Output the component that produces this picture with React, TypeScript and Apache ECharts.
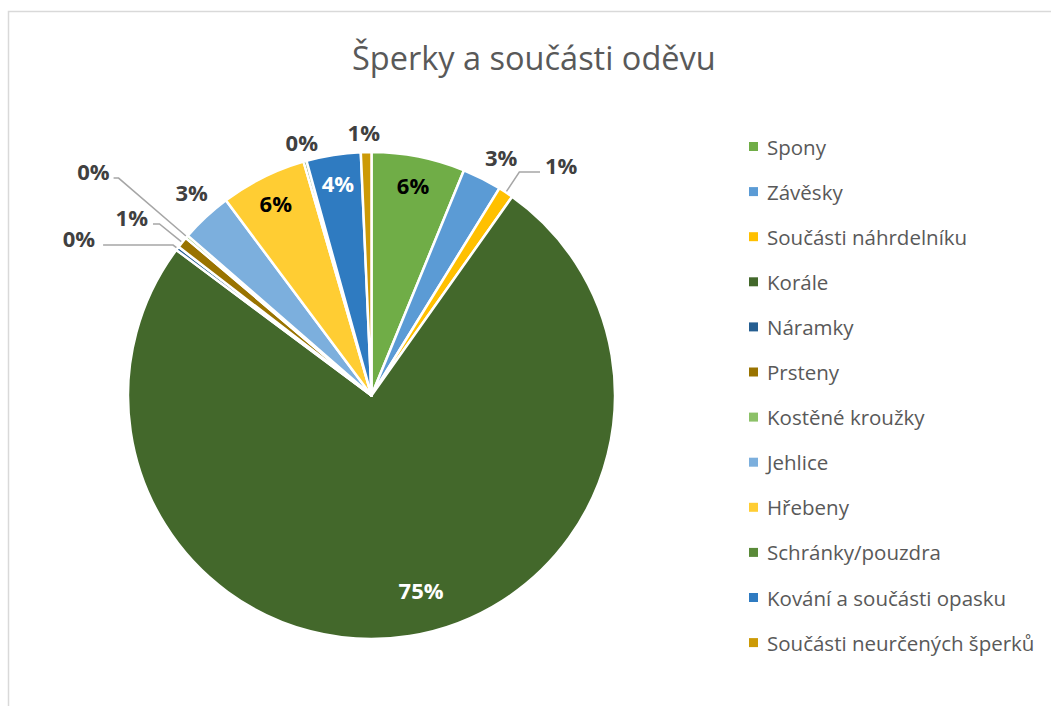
import React, { useEffect, useRef } from "react";
import * as echarts from "echarts";

// ---- data ----
const categories = [
  "Spony",
  "Závěsky",
  "Součásti náhrdelníku",
  "Korále",
  "Náramky",
  "Prsteny",
  "Kostěné kroužky",
  "Jehlice",
  "Hřebeny",
  "Schránky/pouzdra",
  "Kování a součásti opasku",
  "Součásti neurčených šperků",
];
// share of each category in percent
const shares = [6.2, 2.6, 1.0, 75.4, 0.25, 0.75, 0.2, 3.4, 5.7, 0.2, 3.6, 0.7];
const colors = [
  "#70AD47",
  "#5B9BD5",
  "#FFC000",
  "#43682B",
  "#255E91",
  "#997300",
  "#8CC168",
  "#7CAFDD",
  "#FFCD33",
  "#5A8A39",
  "#2F7BC1",
  "#CC9A06",
];
const titleText = "Šperky a součásti oděvu";

// ---- styling / layout ----
const FONT = '"Open Sans", "Noto Sans", sans-serif';
const CENTER = [371.5, 395.5];
const RADIUS = 243.5;

// labels drawn inside their slice (text colour)
const insideLabels: { [name: string]: { color: string; offset: number[] } } = {
  Spony: { color: "#000000", offset: [0, 0] },
  "Korále": { color: "#FFFFFF", offset: [16, -18] },
  "Hřebeny": { color: "#000000", offset: [0, 0] },
  "Kování a součásti opasku": { color: "#FFFFFF", offset: [0, 0] },
};

// labels drawn outside their slice
const outsideLabels: {
  [name: string]: { length: number; length2: number; distance: number; line: boolean };
} = {
  "Závěsky": { length: 24, length2: 0, distance: -8, line: false },
  "Součásti náhrdelníku": { length: 24.5, length2: 20.7, distance: 5, line: true },
  "Náramky": { length: 5.5, length2: 70, distance: 8, line: true },
  Prsteny: { length: 29.2, length2: 6.5, distance: 5, line: true },
  "Kostěné kroužky": { length: 90, length2: 5, distance: 4, line: true },
  Jehlice: { length: 34, length2: 0, distance: -25, line: false },
  "Schránky/pouzdra": { length: 20, length2: 0, distance: -18.4, line: false },
  "Součásti neurčených šperků": { length: 20, length2: 0, distance: -14.3, line: false },
};

const pctFormatter = (p: any) => Math.round(p.percent) + "%";

export default function App() {
  const ref = useRef<HTMLDivElement>(null);

  useEffect(() => {
    document.body.style.margin = "0";
    if (!ref.current) return;
    const chart = echarts.init(ref.current, undefined, { renderer: "svg" });

    const labelBase = {
      fontFamily: FONT,
      fontWeight: "bold" as const,
      fontSize: 22,
      color: "#404040",
      formatter: pctFormatter,
    };

    const mainData = categories.map((name, i) => {
      const o = outsideLabels[name];
      return {
        name,
        value: shares[i],
        itemStyle: { color: colors[i] },
        label: o
          ? {
              show: true,
              position: "outside",
              distanceToLabelLine: o.distance,
              offset: o.line ? [0, -7] : [0, 0],
            }
          : { show: false },
        labelLine: o
          ? { show: o.line, length: o.length, length2: o.length2 }
          : { show: false },
      };
    });

    const labelData = categories.map((name, i) => {
      const o = insideLabels[name];
      return {
        name,
        value: shares[i],
        itemStyle: { color: "rgba(0,0,0,0)", borderWidth: 0 },
        label: o
          ? { show: true, position: "inside", color: o.color, offset: o.offset }
          : { show: false },
      };
    });

    chart.setOption({
      animation: false,
      backgroundColor: "#FFFFFF",
      title: {
        text: titleText,
        left: 352,
        top: 41,
        padding: 0,
        textStyle: {
          fontFamily: FONT,
          fontSize: 32.5,
          fontWeight: "normal",
          color: "#595959",
        },
      },
      legend: {
        orient: "vertical",
        left: 749,
        top: 136,
        padding: 0,
        itemWidth: 9,
        itemHeight: 9,
        itemGap: 24.1,
        icon: "rect",
        selectedMode: false,
        itemStyle: { borderWidth: 0 },
        textStyle: {
          fontFamily: FONT,
          fontSize: 20.5,
          color: "#595959",
          lineHeight: 20,
          padding: [0, 0, 0, 4],
        },
        data: categories,
      },
      graphic: [
        {
          type: "rect",
          silent: true,
          shape: { x: 8.5, y: 11.5, width: 1100, height: 800 },
          style: { fill: "none", stroke: "#D9D9D9", lineWidth: 1.5 },
        },
      ],
      series: [
        {
          type: "pie",
          name: "main",
          center: CENTER,
          radius: RADIUS,
          startAngle: 90,
          clockwise: true,
          avoidLabelOverlap: false,
          emphasis: { disabled: true },
          itemStyle: { borderColor: "#FFFFFF", borderWidth: 2.5 },
          label: { ...labelBase, show: false },
          labelLine: { show: false, lineStyle: { color: "#A6A6A6", width: 1.5 } },
          data: mainData,
        },
        {
          type: "pie",
          name: "labels",
          center: CENTER,
          radius: [180, RADIUS],
          startAngle: 90,
          clockwise: true,
          silent: true,
          avoidLabelOverlap: false,
          emphasis: { disabled: true },
          labelLine: { show: false },
          label: { ...labelBase, show: false },
          data: labelData,
        },
      ],
    });

    return () => {
      chart.dispose();
    };
  }, []);

  return <div ref={ref} style={{ width: 1051, height: 706 }} />;
}
